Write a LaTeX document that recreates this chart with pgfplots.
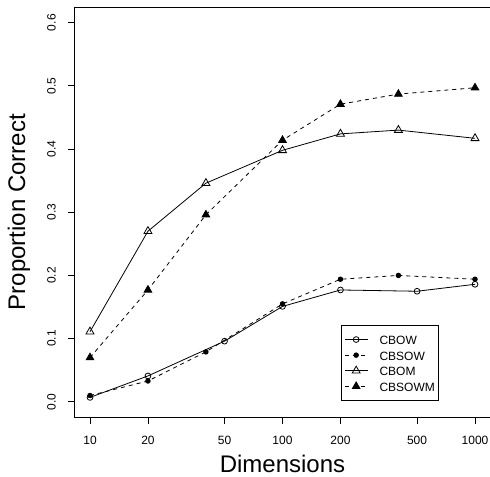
\documentclass[border=0pt]{standalone}
\usepackage{fontspec}
\setmainfont{Liberation Sans}
\usepackage{pgfplots}
\pgfplotsset{compat=1.18}

\begin{document}
\begin{tikzpicture}
\begin{axis}[
    at={(74.6bp,60bp)}, anchor=south west,
    scale only axis, width=415.8bp, height=409.5bp,
    xmode=log, xmin=8.318, xmax=1202.3,
    ymin=-0.024, ymax=0.624,
    xtick={10,20,50,100,200,500,1000},
    xticklabels={10,20,50,100,200,500,1000},
    ytick={0,0.1,0.2,0.3,0.4,0.5,0.6},
    yticklabels={0.0,0.1,0.2,0.3,0.4,0.5,0.6},
    xminorticks=false,
    tick pos=left, tick align=outside, major tick length=7bp,
    axis line style={line width=0.8bp},
    every tick/.style={black, line width=0.8bp},
    tick label style={font=\fontsize{12bp}{14bp}\selectfont, inner sep=0pt},
    xticklabel style={anchor=base},
    yticklabel style={rotate=90, anchor=base},
    xticklabel shift=20.3bp, yticklabel shift=11.9bp,
    every axis plot/.append style={black, line width=0.8bp},
    legend image code/.code={
        \draw[mark repeat=2, mark phase=2, #1]
            plot coordinates {(0bp,0bp) (11.35bp,0bp) (22.7bp,0bp)};},
    legend cell align=left,
    legend style={at={(axis description cs:0.640,0.0398)}, anchor=south west,
        draw=black, line width=0.8bp, inner xsep=3.3bp, inner ysep=6.15bp,
        column sep=11.6bp, row sep=0pt,
        font=\fontsize{12bp}{14bp}\selectfont,
        nodes={inner sep=0pt, text height=12.85bp, text depth=2.75bp}},
]

% CBOW
\addplot[mark=o, mark size=2.9bp, mark options={solid, fill=white}] coordinates {
    (10,0.007) (20,0.041) (50,0.096) (100,0.151) (200,0.177) (500,0.175) (1000,0.186)
};
\addlegendentry{CBOW}

% CBSOW
\addplot[dash pattern=on 4bp off 4bp, mark=*, mark size=2.3bp, mark options={solid}] coordinates {
    (10,0.010) (20,0.033) (40,0.079) (100,0.155) (200,0.194) (400,0.200) (1000,0.194)
};
\addlegendentry{CBSOW}

% CBOM
\addplot[mark=triangle, mark size=4.6bp, mark options={solid, fill=white}] coordinates {
    (10,0.111) (20,0.270) (40,0.346) (100,0.398) (200,0.424) (400,0.430) (1000,0.417)
};
\addlegendentry{CBOM}

% CBSOWM
\addplot[dash pattern=on 4bp off 4bp, mark=triangle*, mark size=4.4bp, mark options={solid}] coordinates {
    (10,0.070) (20,0.177) (40,0.296) (100,0.414) (200,0.471) (400,0.487) (1000,0.497)
};
\addlegendentry{CBSOWM}

\end{axis}
\node[rotate=90, anchor=base, inner sep=0pt, font=\fontsize{24bp}{28bp}\selectfont]
    at (25bp,264.8bp) {Proportion Correct};
\node[anchor=base, inner sep=0pt, font=\fontsize{24bp}{28bp}\selectfont]
    at (282.5bp,4.3bp) {Dimensions};
\pgfresetboundingbox
\useasboundingbox (0,0) rectangle (490bp,477bp);
\end{tikzpicture}
\end{document}
